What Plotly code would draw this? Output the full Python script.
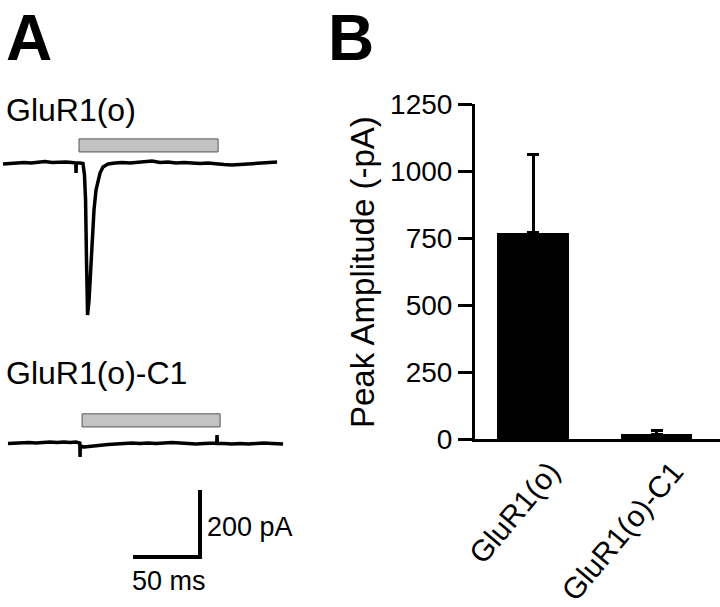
import plotly.graph_objects as go

# ---------------- data ----------------
# Panel A: example current traces (time in ms, current in pA)
t_wt = [0, 5.2, 10.4, 15.7, 20.9, 26.1, 31.3, 36.6, 41.8, 47.0, 51.5, 54.3, 54.5, 54.7,
        57.5, 59.7, 60.8, 61.6, 62.3, 63.1, 64.2, 65.3, 66.4, 67.9, 69.4, 70.9, 72.4,
        74.6, 78.4, 83.6, 88.8, 94.8, 100.8, 106.7, 111.2, 117.2, 123.1, 129.1, 135.1,
        141.1, 147.0, 153.0, 159.0, 164.9, 170.9, 176.9, 182.8, 188.8, 194.8, 199.3, 204.5]
i_wt = [-3, -1.5, 0, 1.5, 0, 3, 4.5, 1.5, 3, 3, 1.5, 0, -30, 0,
        0, -1.5, -36, -110, -290, -454, -409, -319, -230, -140, -81, -51, -30,
        -12, -3, 0, 1.5, 0, 3, 4.5, 6, 1.5, 3, 0, 1.5,
        0, -1.5, 0, -3, -4.5, -6, -4.5, -3, -1.5, 0, 3, 3]

t_c1 = [3.7, 9.0, 14.2, 19.4, 24.6, 29.9, 35.1, 40.3, 45.5, 50.0, 54.5, 57.3, 57.5, 57.7,
        60.5, 63.4, 67.9, 72.4, 78.4, 84.3, 90.3, 96.3, 102.2, 108.2, 114.2, 120.2,
        126.1, 132.1, 138.1, 144.0, 150.0, 154.5, 159.5, 159.7, 159.9, 164.9, 170.9,
        176.9, 182.8, 188.8, 194.8, 200.8, 209.0]
i_c1 = [-1.5, 0, 0, 1.5, 0, 1.5, 3, 1.5, 3, 1.5, 3, 0, -42, -9,
        -12, -10.5, -9, -6, -4.5, -3, -1.5, 0, -1.5, 0, -1.5, 0,
        1.5, 0, -1.5, -3, -1.5, 0, 0, 24, -1.5, -1.5, -3,
        -1.5, -3, -1.5, 0, -1.5, -3]

trace_labels = ["GluR1(o)", "GluR1(o)-C1"]
app_start = [56.7, 59.0]   # agonist application window (ms)
app_end = [160.5, 162.0]
scale_ms = 50
scale_pa = 200

# Panel B: peak amplitudes
categories = ["GluR1(o)", "GluR1(o)-C1"]
peak_amp = [770, 18]
peak_sem = [293, 15]

# ---------------- layout constants ----------------
W, H = 720, 607
FONT = "Arial, Liberation Sans, sans-serif"
C1_OFFSET = -835.8          # vertical offset of second trace (pA)
BAR_LO, BAR_HI = 33, 72     # application bar vertical position relative to trace baseline

fig = go.Figure()

# traces
fig.add_trace(go.Scatter(x=t_wt, y=i_wt, mode="lines",
                         line=dict(color="black", width=3.5), xaxis="x", yaxis="y",
                         showlegend=False, hoverinfo="skip"))
fig.add_trace(go.Scatter(x=t_c1, y=[v + C1_OFFSET for v in i_c1], mode="lines",
                         line=dict(color="black", width=3.5), xaxis="x", yaxis="y",
                         showlegend=False, hoverinfo="skip"))

# scale bar (corner position)
sx, sy = 147, -1176
fig.add_trace(go.Scatter(x=[sx - scale_ms, sx, sx], y=[sy, sy, sy + scale_pa], mode="lines",
                         line=dict(color="black", width=4), xaxis="x", yaxis="y",
                         showlegend=False, hoverinfo="skip"))

shapes = []
bar_offsets = [0, C1_OFFSET + 15]
for k in range(2):
    shapes.append(dict(type="rect", xref="x", yref="y",
                       x0=app_start[k], x1=app_end[k],
                       y0=BAR_LO + bar_offsets[k], y1=BAR_HI + bar_offsets[k],
                       fillcolor="#c3c3c3", line=dict(color="#555555", width=1)))

# bar chart
fig.add_trace(go.Bar(x=categories, y=peak_amp, marker=dict(color="black", line=dict(width=0)),
                     width=0.575,
                     error_y=dict(type="data", array=peak_sem, symmetric=False,
                                  arrayminus=[0, 0], color="black", thickness=3, width=6),
                     xaxis="x2", yaxis="y2", showlegend=False))

annotations = [
    dict(text="<b>A</b>", x=4 / W, y=1, xref="paper", yref="paper",
         xanchor="left", yanchor="top", showarrow=False, font=dict(size=64, family=FONT, color="black")),
    dict(text="<b>B</b>", x=326 / W, y=1, xref="paper", yref="paper",
         xanchor="left", yanchor="top", showarrow=False, font=dict(size=64, family=FONT, color="black")),
    dict(text=trace_labels[0], x=4 / W, y=1 - 110 / H, xref="paper", yref="paper",
         xanchor="left", yanchor="middle", showarrow=False, font=dict(size=32, family=FONT, color="black")),
    dict(text=trace_labels[1], x=4 / W, y=1 - 373 / H, xref="paper", yref="paper",
         xanchor="left", yanchor="middle", showarrow=False, font=dict(size=32, family=FONT, color="black")),
    dict(text=f"{scale_pa} pA", x=205 / W, y=1 - 527 / H, xref="paper", yref="paper",
         xanchor="left", yanchor="middle", showarrow=False, font=dict(size=27, family=FONT, color="black")),
    dict(text=f"{scale_ms} ms", x=130 / W, y=1 - 581 / H, xref="paper", yref="paper",
         xanchor="left", yanchor="middle", showarrow=False, font=dict(size=27, family=FONT, color="black")),
    dict(text="Peak Amplitude (-pA)", x=362 / W, y=1 - 272 / H, xref="paper", yref="paper",
         xanchor="center", yanchor="middle", textangle=-90, showarrow=False,
         font=dict(size=33, family=FONT, color="black")),
]

fig.update_layout(
    width=W, height=H, margin=dict(l=0, r=0, t=0, b=0, pad=0, autoexpand=False),
    paper_bgcolor="white", plot_bgcolor="white",
    font=dict(family=FONT, color="black"),
    shapes=shapes, annotations=annotations,
    bargap=0,
    xaxis=dict(domain=[0, 300 / W], range=[-2.24, 221.6], visible=False, anchor="y"),
    yaxis=dict(domain=[0, 1], range=[-1325.4, 486.6], visible=False, anchor="x"),
    xaxis2=dict(domain=[475 / W, 1], range=[-0.4696, 1.514], anchor="y2",
                showline=True, linecolor="black", linewidth=3, ticks="",
                tickangle=-50, tickfont=dict(size=30, family=FONT, color="black"),
                ticklabelshift=17,
                showgrid=False, zeroline=False, automargin=False),
    yaxis2=dict(domain=[(H - 439) / H, (H - 104) / H], range=[0, 1250], anchor="x2",
                tickvals=[0, 250, 500, 750, 1000, 1250],
                showline=True, linecolor="black", linewidth=3,
                ticks="outside", ticklen=14, tickwidth=3, tickcolor="black",
                tickfont=dict(size=28, family=FONT, color="black"),
                showgrid=False, zeroline=False, automargin=False),
)

fig.write_html("out.html", config={"displayModeBar": False},
               post_script="document.body.style.margin='0';document.body.style.padding='0';")
